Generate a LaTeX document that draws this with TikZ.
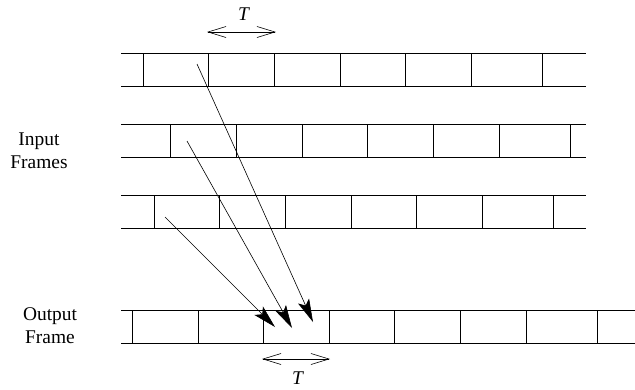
\documentclass[tikz,border=0pt]{standalone}
\usepackage{fontspec}
\setmainfont{Liberation Serif}
\usepackage{tikz}
\usetikzlibrary{arrows.meta}
\tikzset{
  frm/.style={line width=0.7bp},
  lbl/.style={font=\fontsize{19.5}{23}\selectfont, align=center, inner sep=0pt},
  arr/.style={-{Stealth[length=23bp,width=12bp,inset=5bp]}, line width=0.6bp},
  span/.style={{Straight Barb[length=18bp,width=11bp]}-{Straight Barb[length=18bp,width=11bp]}, line width=0.6bp},
}

\begin{document}
\begin{tikzpicture}[x=1bp,y=-1bp]
\useasboundingbox (0,0) rectangle (635,389);
% input frames
\draw[frm] (121,53) -- (586,53) (121,86) -- (586,86);
\foreach \x in {143,208,274,340,405,471,542} \draw[frm] (\x,53) -- (\x,86);
\draw[frm] (121,124) -- (586,124) (121,157) -- (586,157);
\foreach \x in {170,236,302,367,433,499,570} \draw[frm] (\x,124) -- (\x,157);
\draw[frm] (121,195) -- (586,195) (121,228) -- (586,228);
\foreach \x in {154,219,285,351,416,482,553} \draw[frm] (\x,195) -- (\x,228);
% output frame
\draw[frm] (121,310) -- (635,310) (121,343) -- (635,343);
\foreach \x in {132,198,263,329,394,460,526,597} \draw[frm] (\x,310) -- (\x,343);

\node[lbl] (inp) at (39,151) {Input\\Frames};
\node[lbl] (outp) at (50,326) {Output\\Frame};

\coordinate (ta) at (207,32);
\coordinate (tb) at (276,32);
\draw[span] (ta) -- (tb);
\node[lbl] (tt) at (244,14) {\textit{T}};
\coordinate (ba) at (262,359);
\coordinate (bb) at (330,359);
\draw[span] (ba) -- (bb);
\node[lbl] (bt) at (298,378) {\textit{T}};

\coordinate (s1) at (197,64);
\coordinate (e1) at (313,322);
\coordinate (s2) at (187,141);
\coordinate (e2) at (292,328);
\coordinate (s3) at (165,217);
\coordinate (e3) at (275,327);
\draw[arr] (s1) -- (e1);
\draw[arr] (s2) -- (e2);
\draw[arr] (s3) -- (e3);
\end{tikzpicture}
\end{document}
